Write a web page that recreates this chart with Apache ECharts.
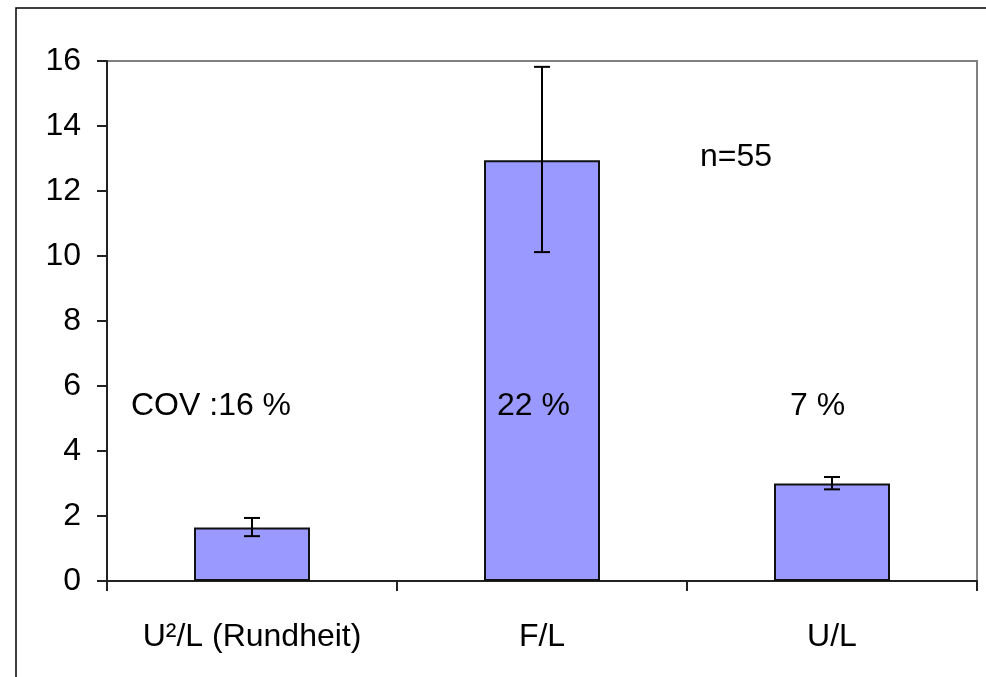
<!DOCTYPE html>
<html>
<head>
<meta charset="utf-8">
<script src="https://cdn.jsdelivr.net/npm/echarts@6/dist/echarts.min.js"></script>
<style>
  html, body { margin: 0; padding: 0; background: #fff; }
  #chartData { width: 986px; height: 677px; }
</style>
</head>
<body>
<div id="chartData"></div>
<script>
// Werte
var categories = ['U\u00b2/L (Rundheit)', 'F/L', 'U/L'];
var means      = [1.65, 12.95, 3.0];
var errLow     = [1.38, 10.12, 2.82];
var errHigh    = [1.94, 15.82, 3.2];
var covLabels  = ['COV :16 %', '22 %', '7 %'];
var yTicks     = [0, 2, 4, 6, 8, 10, 12, 14, 16];

var font = 'Liberation Sans, Arial, sans-serif';

var myChart = echarts.init(document.getElementById('chartData'));

var errData = [];
for (var i = 0; i < categories.length; i++) {
    errData.push([i, errLow[i], errHigh[i]]);
}

var option = {
    animation: false,
    backgroundColor: '#fff',
    grid: {
        left: 107, right: 9, top: 61, bottom: 96,
        show: true,
        borderColor: '#808080',
        borderWidth: 2
    },
    xAxis: {
        type: 'category',
        data: categories,
        axisLine: { lineStyle: { color: '#222', width: 2 } },
        axisTick: { show: true, length: 10, lineStyle: { color: '#222', width: 2 } },
        axisLabel: { color: '#000', fontSize: 32, fontFamily: font, margin: 40 }
    },
    yAxis: {
        type: 'value',
        min: yTicks[0],
        max: yTicks[yTicks.length - 1],
        interval: 2,
        splitLine: { show: false },
        axisLine: { show: true, lineStyle: { color: '#222', width: 2 } },
        axisTick: { show: true, length: 10, lineStyle: { color: '#222', width: 2 } },
        axisLabel: { color: '#000', fontSize: 32, fontFamily: font, margin: 26 }
    },
    series: [
        {
            type: 'bar',
            data: means,
            barWidth: '40%',
            itemStyle: { color: '#9999ff', borderColor: '#111', borderWidth: 2 }
        },
        {
            type: 'custom',
            data: errData,
            z: 10,
            renderItem: function (params, api) {
                var lo = api.coord([api.value(0), api.value(1)]);
                var hi = api.coord([api.value(0), api.value(2)]);
                var w = 8;
                var st = { stroke: '#000', lineWidth: 2 };
                return {
                    type: 'group',
                    children: [
                        { type: 'line', shape: { x1: hi[0], y1: hi[1], x2: lo[0], y2: lo[1] }, style: st },
                        { type: 'line', shape: { x1: hi[0] - w, y1: hi[1], x2: hi[0] + w, y2: hi[1] }, style: st },
                        { type: 'line', shape: { x1: lo[0] - w, y1: lo[1], x2: lo[0] + w, y2: lo[1] }, style: st }
                    ]
                };
            }
        }
    ],
    graphic: [
        // Rahmen
        { type: 'rect', shape: { x: 16, y: 8, width: 1100, height: 1000 },
          style: { fill: 'none', stroke: '#000', lineWidth: 1.5 }, z: 0 },
        { type: 'text', z: 100, left: 131, top: 390, style: { text: covLabels[0], fill: '#000', font: '32px ' + font } },
        { type: 'text', z: 100, left: 497, top: 390, style: { text: covLabels[1], fill: '#000', font: '32px ' + font } },
        { type: 'text', z: 100, left: 790, top: 390, style: { text: covLabels[2], fill: '#000', font: '32px ' + font } },
        { type: 'text', z: 100, left: 700, top: 141, style: { text: 'n=55', fill: '#000', font: '32px ' + font } }
    ]
};

myChart.setOption(option);
</script>
</body>
</html>
